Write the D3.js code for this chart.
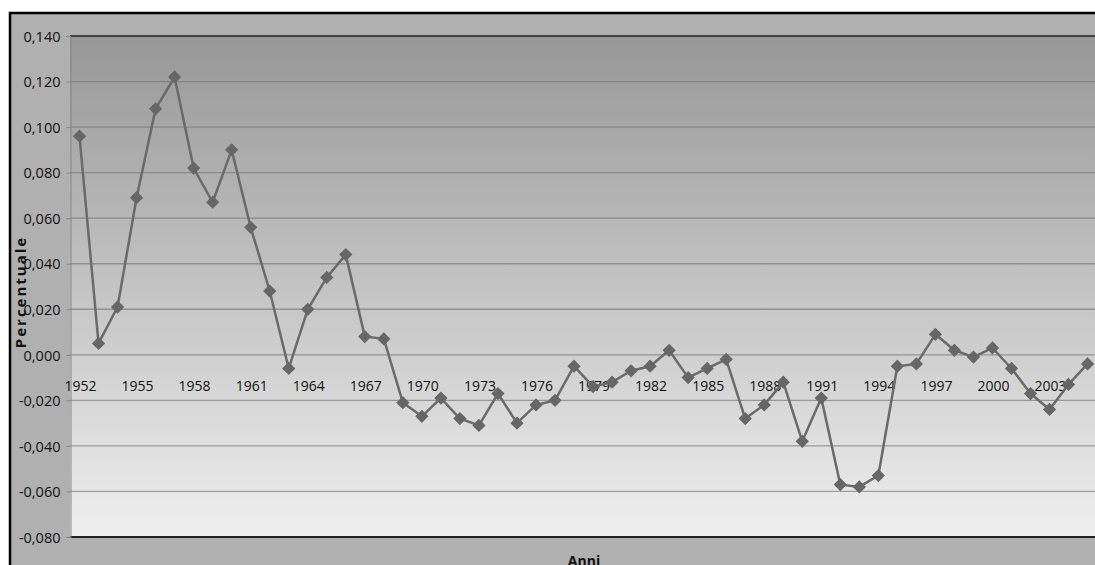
<!DOCTYPE html>
<html>
<head>
<meta charset="utf-8">
<script src="https://cdn.jsdelivr.net/npm/d3@7"></script>
<style>
  body { margin: 0; background: #fff; }
  text { font-family: "Open Sans", "DejaVu Sans", sans-serif; }
</style>
</head>
<body>
<script>
// Data
const years = [1952, 1953, 1954, 1955, 1956, 1957, 1958, 1959, 1960, 1961,
  1962, 1963, 1964, 1965, 1966, 1967, 1968, 1969, 1970, 1971,
  1972, 1973, 1974, 1975, 1976, 1977, 1978, 1979, 1980, 1981,
  1982, 1983, 1984, 1985, 1986, 1987, 1988, 1989, 1990, 1991,
  1992, 1993, 1994, 1995, 1996, 1997, 1998, 1999, 2000, 2001,
  2002, 2003, 2004, 2005];
const values = [0.096, 0.005, 0.021, 0.069, 0.108, 0.122, 0.082, 0.067, 0.090, 0.056,
  0.028, -0.006, 0.020, 0.034, 0.044, 0.008, 0.007, -0.021, -0.027, -0.019,
  -0.028, -0.031, -0.017, -0.030, -0.022, -0.020, -0.005, -0.014, -0.012, -0.007,
  -0.005, 0.002, -0.010, -0.006, -0.002, -0.028, -0.022, -0.012, -0.038, -0.019,
  -0.057, -0.058, -0.053, -0.005, -0.004, 0.009, 0.002, -0.001, 0.003, -0.006,
  -0.017, -0.024, -0.013, -0.004];
const yTicks = [-0.08, -0.06, -0.04, -0.02, 0, 0.02, 0.04, 0.06, 0.08, 0.10, 0.12, 0.14];
const xLabelEvery = 3;

/* Dimensions */
const WIDTH = 1095, HEIGHT = 565;
const PLOT_LEFT = 70, PLOT_TOP = 36, PLOT_BOTTOM = 537;
const BAND = 19.02;

const svg = d3.select("body").append("svg")
  .attr("width", WIDTH)
  .attr("height", HEIGHT);

// Scales
const x = d3.scalePoint()
  .domain(years)
  .range([PLOT_LEFT, PLOT_LEFT + BAND * years.length])
  .padding(0.5);
const y = d3.scaleLinear()
  .domain([-0.08, 0.14])
  .range([PLOT_BOTTOM, PLOT_TOP]);

// Italian style numbers: comma decimal, plain hyphen minus
const it = d3.formatLocale({ decimal: ",", thousands: ".", grouping: [3], currency: ["€", ""], minus: "-" });
const fmt = it.format(".3f");

// Outer chart area
svg.append("rect")
  .attr("x", 10).attr("y", 13)
  .attr("width", WIDTH - 10).attr("height", HEIGHT - 13)
  .attr("fill", "#b0b0b0");
svg.append("path")
  .attr("d", `M10,${HEIGHT} V13 H${WIDTH}`)
  .attr("fill", "none")
  .attr("stroke", "#000")
  .attr("stroke-width", 2.5);

// Plot area gradient
const defs = svg.append("defs");
const grad = defs.append("linearGradient")
  .attr("id", "plotGrad")
  .attr("x1", 0).attr("y1", 0).attr("x2", 0).attr("y2", 1);
grad.append("stop").attr("offset", "0%").attr("stop-color", "#979797");
grad.append("stop").attr("offset", "100%").attr("stop-color", "#efefef");

svg.append("rect")
  .attr("x", PLOT_LEFT).attr("y", PLOT_TOP)
  .attr("width", WIDTH - PLOT_LEFT).attr("height", PLOT_BOTTOM - PLOT_TOP)
  .attr("fill", "url(#plotGrad)");

// Gridlines
svg.append("g")
  .selectAll("line")
  .data(yTicks.filter(d => d > -0.08 && d < 0.14))
  .join("line")
    .attr("x1", PLOT_LEFT).attr("x2", WIDTH)
    .attr("y1", d => y(d)).attr("y2", d => y(d))
    .attr("stroke", "#737373")
    .attr("stroke-opacity", 0.65)
    .attr("stroke-width", 1.3);

// Plot borders (top and bottom dark lines)
svg.append("line")
  .attr("x1", PLOT_LEFT).attr("x2", WIDTH)
  .attr("y1", PLOT_TOP).attr("y2", PLOT_TOP)
  .attr("stroke", "#222").attr("stroke-width", 1.5);
svg.append("line")
  .attr("x1", PLOT_LEFT).attr("x2", WIDTH)
  .attr("y1", PLOT_BOTTOM).attr("y2", PLOT_BOTTOM)
  .attr("stroke", "#222").attr("stroke-width", 1.8);

// Y axis
const yAxis = svg.append("g")
  .attr("transform", `translate(${PLOT_LEFT + 0.5},0)`)
  .call(d3.axisLeft(y).tickValues(yTicks).tickFormat(fmt).tickSize(4).tickPadding(6));
yAxis.select(".domain").attr("stroke", "#858585");
yAxis.selectAll(".tick line").attr("stroke", "#858585");
yAxis.selectAll(".tick text")
  .attr("fill", "#111")
  .attr("font-size", 14.5)
  .attr("font-family", "Open Sans, DejaVu Sans, sans-serif")
  .attr("dy", "0.36em");

// X labels next to the zero line, every third year
svg.append("g")
  .selectAll("text")
  .data(years.filter((d, i) => i % xLabelEvery === 0))
  .join("text")
    .attr("x", d => x(d) + 1)
    .attr("y", y(0) + 36)
    .attr("text-anchor", "middle")
    .attr("font-size", 14)
    .attr("fill", "#111")
    .text(d => d);

// Series line
const series = years.map((d, i) => ({ year: d, value: values[i] }));
svg.append("path")
  .datum(series)
  .attr("fill", "none")
  .attr("stroke", "#6a6a6a")
  .attr("stroke-width", 2.5)
  .attr("stroke-linejoin", "round")
  .attr("d", d3.line().x(d => x(d.year)).y(d => y(d.value)));

// Diamond markers
svg.append("g")
  .selectAll("path")
  .data(series)
  .join("path")
    .attr("transform", d => `translate(${x(d.year)},${y(d.value)}) rotate(45)`)
    .attr("d", d3.symbol().type(d3.symbolSquare).size(88))
    .attr("fill", "#666");

// Axis titles
svg.append("text")
  .attr("transform", "translate(26,292) rotate(-90)")
  .attr("text-anchor", "middle")
  .attr("font-size", 15)
  .attr("font-weight", "bold")
  .attr("letter-spacing", 2)
  .attr("fill", "#111")
  .text("Percentuale");

svg.append("text")
  .attr("x", 584)
  .attr("y", 566)
  .attr("text-anchor", "middle")
  .attr("font-size", 14)
  .attr("font-weight", "bold")
  .attr("fill", "#111")
  .text("Anni");
</script>
</body>
</html>
